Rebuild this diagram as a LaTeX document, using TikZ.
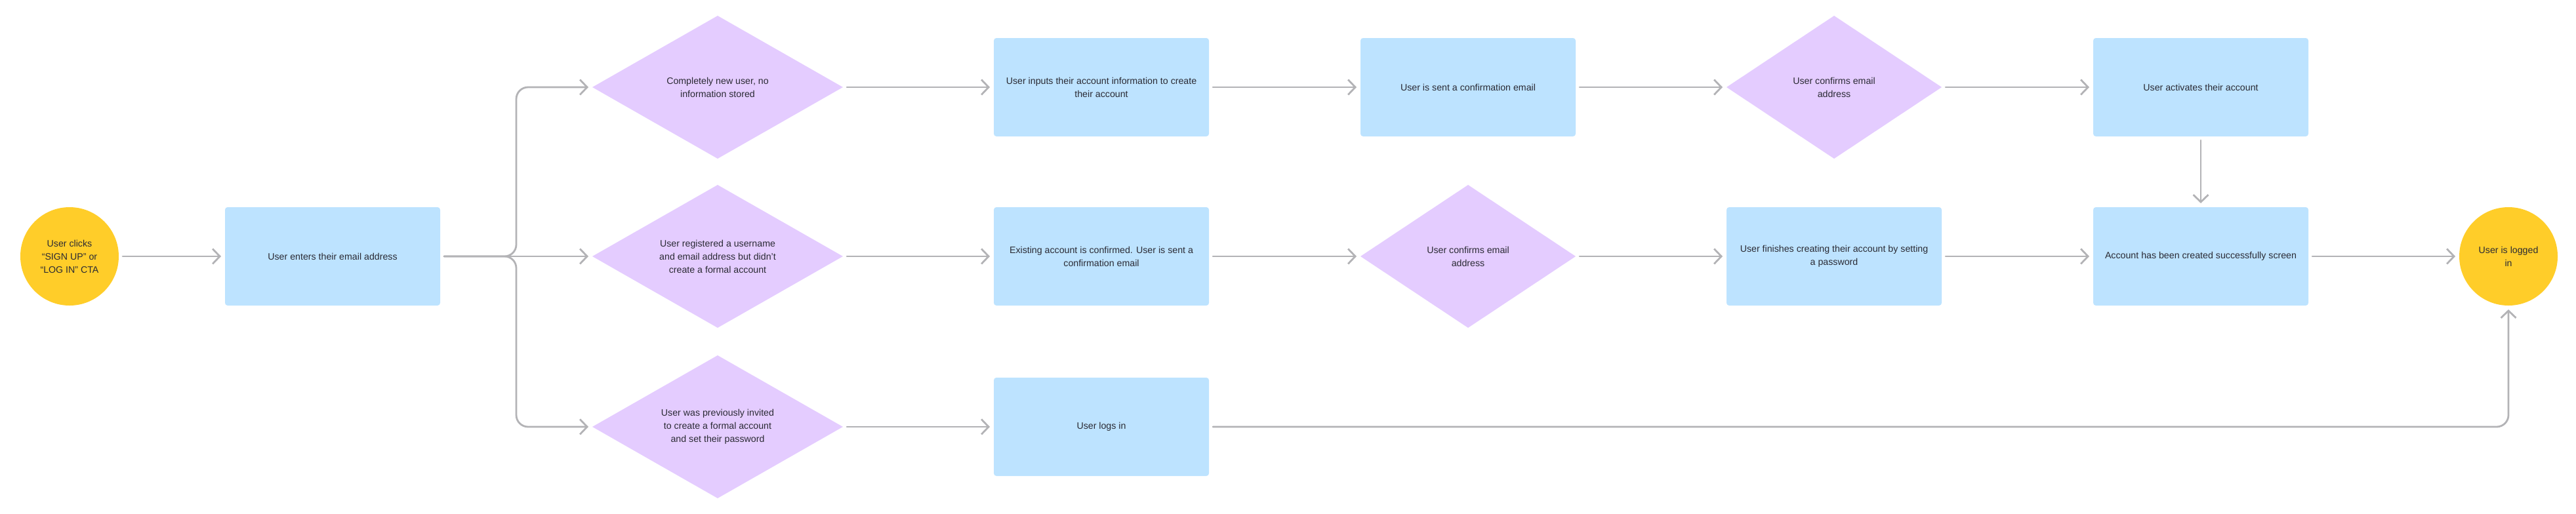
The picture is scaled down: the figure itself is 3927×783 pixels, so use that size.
\documentclass[tikz,border=0pt]{standalone}
\usepackage{fontspec}
\setmainfont{Liberation Sans}
\usepackage{tikz}
\usetikzlibrary{shapes.geometric}
\usetikzlibrary{arrows.meta}

\definecolor{boxblue}{HTML}{BDE3FF}
\definecolor{choicepurple}{HTML}{E4CCFF}
\definecolor{endyellow}{HTML}{FFCD29}
\definecolor{linegray}{HTML}{B3B3B6}
\definecolor{textgray}{HTML}{2A2A33}

\begin{document}
\begin{tikzpicture}[x=0.5pt,y=-0.5pt,
        every node/.style={font=\fontsize{7.1}{10}\selectfont, text=textgray, align=center, inner sep=0pt, outer sep=0pt},
        box/.style={fill=boxblue, rounded corners=2pt, minimum width=164pt, minimum height=75pt},
        choice/.style={diamond, fill=choicepurple, aspect=1.75, minimum width=191pt, minimum height=109pt},
        smallchoice/.style={diamond, fill=choicepurple, aspect=1.5, minimum width=164pt, minimum height=109pt},
        terminal/.style={circle, fill=endyellow, minimum size=75pt},
        link/.style={draw=linegray, line width=1.4pt, line cap=round, -{Straight Barb[length=5.5pt,width=11.5pt]}, shorten <=3pt, shorten >=3pt}]
        \useasboundingbox (0,0) rectangle (3927,783);

        \node[terminal] (start) at (106,391) {User clicks\\“SIGN UP” or\\“LOG IN” CTA};
        \node[box] (email) at (507,391) {User enters their email address};
        \coordinate (fork) at (787,391);

        % top line
        \node[choice] (new) at (1094,133) {Completely new user, no\\information stored};
        \node[box] (inputs) at (1679,133) {User inputs their account information to create\\their account};
        \node[box] (sent) at (2238,133) {User is sent a confirmation email};
        \node[smallchoice] (confirmtop) at (2796,133) {User confirms email\\address};
        \node[box] (activates) at (3355,133) {User activates their account};

        % sec line
        \node[choice] (registered) at (1094,391) {User registered a username\\and email address but didn’t\\create a formal account};
        \node[box] (existing) at (1679,391) {Existing account is confirmed. User is sent a\\confirmation email};
        \node[smallchoice] (confirmmid) at (2238,391) {User confirms email\\address};
        \node[box] (finishes) at (2796,391) {User finishes creating their account by setting\\a password};
        \node[box] (created) at (3355,391) {Account has been created successfully screen};
        \node[terminal] (loggedin) at (3824,391) {User is logged\\in};

        % bottom line
        \node[choice] (invited) at (1094,651) {User was previously invited\\to create a formal account\\and set their password};
        \node[box] (logsin) at (1679,651) {User logs in};

        % arrows
        \draw[link] (start) -- (email);
        \draw[link, rounded corners=9pt] (email.east) -- (fork) |- (new.west);
        \draw[link] (email) -- (registered);
        \draw[link, rounded corners=9pt] (email.east) -- (fork) |- (invited.west);

        \draw[link] (new) -- (inputs);
        \draw[link] (inputs) -- (sent);
        \draw[link] (sent) -- (confirmtop);
        \draw[link] (confirmtop) -- (activates);
        \draw[link] (activates) -- (created);

        \draw[link] (registered) -- (existing);
        \draw[link] (existing) -- (confirmmid);
        \draw[link] (confirmmid) -- (finishes);
        \draw[link] (finishes) -- (created);
        \draw[link] (created) -- (loggedin);

        \draw[link] (invited) -- (logsin);
        \draw[link, rounded corners=9pt] (logsin.east) -| (loggedin.south);
    \end{tikzpicture}
\end{document}
